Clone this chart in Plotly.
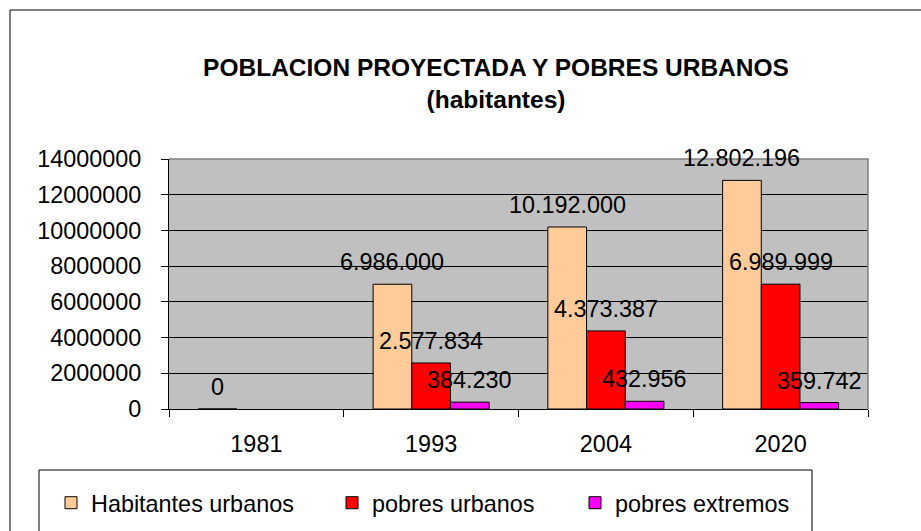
import plotly.graph_objects as go

years = ["1981", "1993", "2004", "2020"]
habitantes_urbanos = [0, 6986000, 10192000, 12802196]
pobres_urbanos = [None, 2577834, 4373387, 6989999]
pobres_extremos = [None, 384230, 432956, 359742]
y_ticks = [0, 2000000, 4000000, 6000000, 8000000, 10000000, 12000000, 14000000]

series = [
    ("Habitantes urbanos", habitantes_urbanos, "#FFCC99"),
    ("pobres urbanos", pobres_urbanos, "#FF0000"),
    ("pobres extremos", pobres_extremos, "#FF00FF"),
]

FONT = "Liberation Sans, Arial, sans-serif"
W, H = 921, 531
L, R, T, B = 169, 53, 159, 122
PW, PH = W - L - R, H - T - B

def px_x(p):
    return (p - L) / PW

def px_y(p):
    return (H - B - p) / PH

BARGAP = 0.336
bw = (1 - BARGAP) / 3

legend_names = ["legend", "legend2", "legend3"]
legend_text_x = [91, 372, 615]

fig = go.Figure()
annotations = []
for k, (name, vals, col) in enumerate(series):
    fig.add_trace(go.Bar(
        x=years, y=vals, name=name, legend=legend_names[k], showlegend=True,
        marker=dict(color=col, line=dict(color="#000000", width=1)),
    ))
    for i, v in enumerate(vals):
        if v is None:
            continue
        annotations.append(dict(
            x=i + (k - 1) * bw, y=v, xref="x", yref="y",
            text=f"{v:,}".replace(",", "."), showarrow=False,
            yanchor="middle", xanchor="center", yshift=22,
            font=dict(family=FONT, size=23.4, color="#000000"),
        ))

shapes = [
    # outer chart border
    dict(type="rect", xref="paper", yref="paper",
         x0=px_x(10), y0=px_y(600), x1=px_x(1000), y1=px_y(10),
         line=dict(color="#000000", width=1), layer="below"),
    # legend box
    dict(type="rect", xref="paper", yref="paper",
         x0=px_x(39), y0=px_y(600), x1=px_x(812), y1=px_y(470),
         line=dict(color="#000000", width=1), layer="below"),
    # plot area top/right border
    dict(type="path", xref="paper", yref="paper",
         path="M 0,1 L 1,1 L 1,0", line=dict(color="#808080", width=1.5), layer="above"),
]

legend_common = dict(
    orientation="h", xanchor="left", yanchor="top", y=px_y(481),
    bgcolor="rgba(0,0,0,0)", borderwidth=0,
    font=dict(family=FONT, size=23.4, color="#000000"),
)

fig.update_layout(
    width=W, height=H,
    margin=dict(l=L, r=R, t=T, b=B, autoexpand=False),
    showlegend=True,
    paper_bgcolor="#FFFFFF",
    plot_bgcolor="#C0C0C0",
    barmode="group", bargap=BARGAP, bargroupgap=0,
    font=dict(family=FONT, size=23.4, color="#000000"),
    title=dict(
        text="<b>POBLACION PROYECTADA Y POBRES URBANOS</b><br><b>(habitantes)</b>",
        x=px_x(496), xref="paper", xanchor="center",
        y=1 - 76 / H, yref="container", yanchor="middle",
        font=dict(family=FONT, size=24.5, color="#000000"),
    ),
    xaxis=dict(
        type="category", showline=True, linecolor="#000000", linewidth=1,
        ticks="outside", tickson="boundaries", ticklen=7, tickcolor="#000000",
        ticklabelstandoff=14, showgrid=False,
        tickfont=dict(family=FONT, size=23.4, color="#000000"),
    ),
    yaxis=dict(
        range=[0, 14000000], tickvals=y_ticks, ticktext=[str(v) for v in y_ticks],
        showline=True, linecolor="#000000", linewidth=1,
        ticks="outside", ticklen=7, tickcolor="#000000",
        showgrid=True, gridcolor="#000000", gridwidth=1,
        zeroline=False, ticklabelstandoff=15,
        tickfont=dict(family=FONT, size=23.4, color="#000000"),
    ),
    legend=dict(x=px_x(legend_text_x[0] - 40), **legend_common),
    legend2=dict(x=px_x(legend_text_x[1] - 40), **legend_common),
    legend3=dict(x=px_x(legend_text_x[2] - 40), **legend_common),
    annotations=annotations,
    shapes=shapes,
)

fig.write_html(
    "out.html",
    config={"displayModeBar": False},
    post_script="document.body.style.margin='0';document.body.style.overflow='hidden';",
)
